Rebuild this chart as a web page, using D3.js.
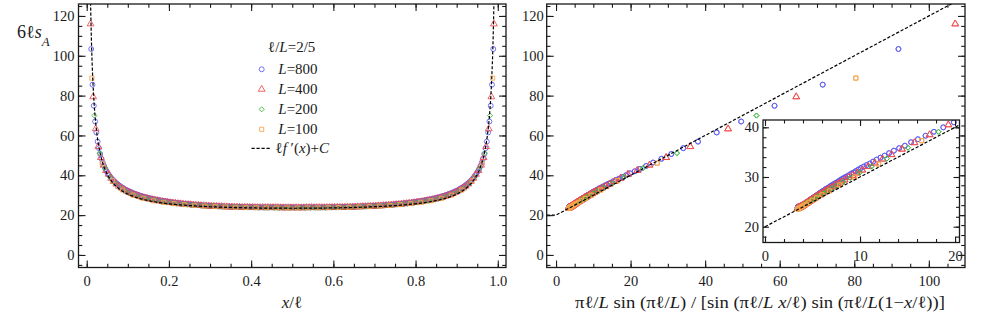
<!DOCTYPE html>
<html><head><meta charset="utf-8">
<script src="https://cdn.jsdelivr.net/npm/d3@7"></script>
<style>
body{margin:0;background:#fff;}
</style></head><body>
<svg id="chart" width="1003" height="330"></svg>
<script>
// ---------------- data ----------------
const ellOverL = 2/5;          // ℓ/L
const constC = 20;             // C in ℓ f'(x) + C
const systemSizes = [800, 400, 200, 100];
const seriesLabels = ["800", "400", "200", "100"];
const firstSite = [3.5, 1.5, 1.5, 0.5];   // first visible site x for each L (sites are half-integers)

const yL800 = [103.4,85.5,74.9,67.0,61.5,56.9,53.6,50.7,48.3,46.4,
44.7,43.2,42.0,41.0,40.0,39.1,38.3,37.6,37.0,36.3,
35.8,35.3,34.8,34.3,33.9,33.5,33.1,32.7,32.4,32.1,
31.8,31.5,31.2,30.9,30.7,30.4,30.2,30.0,29.8,29.6,
29.4,29.2,29.0,28.8,28.7,28.5,28.4,28.2,28.1,27.9,
27.8,27.7,27.6,27.4,27.3,27.2,27.1,27.0,26.9,26.8,
26.7,26.6,26.5,26.4,26.3,26.2,26.1,26.1,26.0,25.9,
25.8,25.8,25.7,25.6,25.6,25.5,25.5,25.4,25.3,25.3,
25.2,25.2,25.1,25.1,25.0,24.9,24.9,24.9,24.8,24.8,
24.8,24.7,24.7,24.6,24.6,24.6,24.6,24.5,24.5,24.4,
24.4,24.4,24.4,24.4,24.3,24.3,24.3,24.3,24.3,24.2,
24.2,24.2,24.2,24.2,24.2,24.1,24.1,24.1,24.1,24.1,
24.1,24.1,24.0,24.0,24.0,24.0,24.0,24.0,24.0,24.0,
23.9,23.9,23.9,23.9,23.9,23.9,23.9,23.9,23.9,23.9,
23.9,23.9,23.9,23.9,23.9,23.9,23.9,23.9,23.9,23.9,
23.9,23.9,23.9,23.9,23.9,23.9,23.9,
23.9,23.9,23.9,23.9,23.9,23.9,23.9,23.9,23.9,23.9,
23.9,23.9,23.9,23.9,23.9,23.9,23.9,23.9,23.9,23.9,
23.9,23.9,23.9,23.9,23.9,23.9,23.9,
24.0,24.0,24.0,24.0,24.0,24.0,24.0,24.0,
24.1,24.1,24.1,24.1,24.1,24.1,24.1,
24.2,24.2,24.2,24.2,24.2,24.2,
24.3,24.3,24.3,24.3,24.3,
24.4,24.4,24.4,24.4,24.4,
24.5,24.5,24.6,24.6,24.6,24.6,24.7,24.7,24.8,24.8,24.8,
24.9,24.9,24.9,25.0,25.1,25.1,25.2,25.2,25.3,25.3,25.4,25.5,25.5,25.6,25.6,25.7,25.8,25.8,25.9,
26.0,26.1,26.1,26.2,26.3,26.4,26.5,26.6,26.7,26.8,26.9,27.0,27.1,27.2,27.3,27.4,27.6,27.7,27.8,27.9,
28.1,28.2,28.4,28.5,28.7,28.8,29.0,29.2,29.4,29.6,29.8,30.0,30.2,30.4,30.7,30.9,31.2,31.5,31.8,
32.1,32.4,32.7,33.1,33.5,33.9,34.3,34.8,35.3,35.8,36.3,37.0,37.6,38.3,39.1,40.0,41.0,42.0,43.2,
44.7,46.4,48.3,50.7,53.6,56.9,61.5,67.0,74.9,85.5,103.4];

const yL400 = [116.0,79.4,63.3,54.4,48.9,45.1,42.4,40.5,38.5,36.9,
35.6,34.5,33.6,32.8,32.1,31.4,30.8,30.3,29.9,29.4,
29.0,28.7,28.4,28.0,27.8,27.5,27.3,27.1,26.8,26.6,
26.5,26.3,26.1,26.0,25.8,25.7,25.5,25.4,25.3,25.2,
25.1,25.0,24.9,24.8,24.7,24.7,24.6,24.5,24.4,24.4,
24.3,24.3,24.2,24.2,24.1,24.1,24.0,24.0,24.0,23.9,
23.9,23.9,23.9,23.9,23.8,23.8,23.8,23.8,23.8,23.8,
23.8,23.8,23.8,23.8,23.7,23.7,23.7,23.7,23.7,
23.7,23.7,23.7,23.7,23.7,23.8,23.8,23.8,23.8,23.8,
23.8,23.8,23.8,23.8,23.8,23.9,23.9,23.9,23.9,23.9,
24.0,24.0,24.0,24.1,24.1,24.2,24.2,24.3,24.3,24.4,
24.4,24.5,24.6,24.7,24.7,24.8,24.9,25.0,25.1,25.2,
25.3,25.4,25.5,25.7,25.8,26.0,26.1,26.3,26.5,26.6,
26.8,27.1,27.3,27.5,27.8,28.0,28.4,28.7,29.0,29.4,
29.9,30.3,30.8,31.4,32.1,32.8,33.6,34.5,35.6,36.9,
38.5,40.5,42.4,45.1,48.9,54.4,63.3,79.4,116.0];

const yL200 = [70.0,51.1,43.6,39.1,35.9,33.7,32.1,30.9,29.8,29.0,
28.3,27.7,27.2,26.7,26.3,26.1,25.7,25.5,25.3,25.0,
24.9,24.7,24.6,24.5,24.3,24.2,24.1,24.0,24.0,23.9,
23.8,23.8,23.7,23.7,23.7,23.6,23.6,23.6,23.6,
23.6,23.6,23.6,23.6,23.7,23.7,23.7,23.8,23.8,23.9,
24.0,24.0,24.1,24.2,24.3,24.5,24.6,24.7,24.9,25.0,
25.3,25.5,25.7,26.1,26.3,26.7,27.2,27.7,28.3,29.0,
29.8,30.9,32.1,33.7,35.9,39.1,43.6,51.1,70.0];

const yL100 = [88.8,46.1,37.3,32.6,30.0,28.4,27.2,26.4,25.8,25.3,
24.9,24.5,24.3,24.1,23.9,23.8,23.7,23.6,23.6,23.6,
23.6,23.6,23.6,23.7,23.8,23.9,24.1,24.3,24.5,24.9,
25.3,25.8,26.4,27.2,28.4,30.0,32.6,37.3,46.1,88.8];

const leftXTicks = [0, 0.2, 0.4, 0.6, 0.8, 1.0];
const leftXTickLabels = ["0", "0.2", "0.4", "0.6", "0.8", "1.0"];
const yTicks = [0, 20, 40, 60, 80, 100, 120];
const rightXTicks = [0, 20, 40, 60, 80, 100];
const insetXTicks = [0, 10, 20];
const insetYTicks = [20, 30, 40];

// ---------------- helpers ----------------
const seriesValues = [yL800, yL400, yL200, yL100];
const colors = ["#5a5af2", "#f04a4a", "#3fb83f", "#f5a34c"];
const a = Math.PI * ellOverL;
const chord = u => a * Math.sin(a) / (Math.sin(a * u) * Math.sin(a * (1 - u)));

const series = systemSizes.map((L, i) => {
  const ell = ellOverL * L;
  return seriesValues[i].map((v, j) => {
    const u = (firstSite[i] + j) / ell;
    return {u: u, X: chord(u), y: v};
  });
});

const svg = d3.select("#chart");
const INK = "#1a1a1a";
const FONT = "'Liberation Serif', Tinos, 'Times New Roman'";

const symbolGens = [
  d3.symbol(d3.symbolCircle, 19),
  d3.symbol(d3.symbolTriangle, 20),
  d3.symbol(d3.symbolSquare, 13),
  d3.symbol(d3.symbolSquare, 17)
];
const symbolRot = [0, 0, 45, 0];

function drawMarkers(g, data, xAcc, yAcc, si) {
  g.selectAll(null).data(data).join("path")
    .attr("d", symbolGens[si]())
    .attr("transform", d => `translate(${xAcc(d)},${yAcc(d)}) rotate(${symbolRot[si]})`)
    .attr("fill", "none")
    .attr("stroke", colors[si])
    .attr("stroke-width", 0.85);
}

function styleAxis(g) {
  g.select(".domain").remove();
  g.attr("font-family", null).attr("font-size", null);
  g.selectAll(".tick line").attr("stroke", INK).attr("stroke-width", 1.1);
  g.selectAll("text").style("font-family", FONT).style("font-size", "14.5px").attr("fill", INK);
}

function frame(g, xs, ys, xMaj, xMin, yMaj, yMin, xFmt, yFmt, opts) {
  const [x0, x1] = xs.range(), [y0, y1] = ys.range();
  const maj = opts.maj, mn = opts.min;
  g.append("g").attr("transform", `translate(0,${y0})`)
    .call(d3.axisBottom(xs).tickValues(xMin).tickSizeInner(-mn).tickSizeOuter(0).tickFormat("")).call(styleAxis);
  g.append("g").attr("transform", `translate(0,${y1})`)
    .call(d3.axisTop(xs).tickValues(xMin).tickSizeInner(-mn).tickSizeOuter(0).tickFormat("")).call(styleAxis);
  g.append("g").attr("transform", `translate(${x0},0)`)
    .call(d3.axisLeft(ys).tickValues(yMin).tickSizeInner(-mn).tickSizeOuter(0).tickFormat("")).call(styleAxis);
  g.append("g").attr("transform", `translate(${x1},0)`)
    .call(d3.axisRight(ys).tickValues(yMin).tickSizeInner(-mn).tickSizeOuter(0).tickFormat("")).call(styleAxis);
  g.append("g").attr("transform", `translate(0,${y0})`)
    .call(d3.axisBottom(xs).tickValues(xMaj).tickSizeInner(-maj).tickSizeOuter(0).tickPadding(opts.xPad).tickFormat(xFmt)).call(styleAxis);
  g.append("g").attr("transform", `translate(0,${y1})`)
    .call(d3.axisTop(xs).tickValues(xMaj).tickSizeInner(-maj).tickSizeOuter(0).tickFormat("")).call(styleAxis);
  g.append("g").attr("transform", `translate(${x0},0)`)
    .call(d3.axisLeft(ys).tickValues(yMaj).tickSizeInner(-maj).tickSizeOuter(0).tickPadding(opts.yPad).tickFormat(yFmt)).call(styleAxis);
  g.append("g").attr("transform", `translate(${x1},0)`)
    .call(d3.axisRight(ys).tickValues(yMaj).tickSizeInner(-maj).tickSizeOuter(0).tickFormat("")).call(styleAxis);
  g.append("rect").attr("x", x0).attr("y", y1).attr("width", x1 - x0).attr("height", y0 - y1)
    .attr("fill", "none").attr("stroke", INK).attr("stroke-width", 1.3);
}

function clip(id, xs, ys) {
  const [x0, x1] = xs.range(), [y0, y1] = ys.range();
  svg.append("clipPath").attr("id", id).append("rect")
    .attr("x", x0).attr("y", y1).attr("width", x1 - x0).attr("height", y0 - y1);
  return `url(#${id})`;
}

function richText(parent, x, y, parts, size, anchor) {
  const t = parent.append("text").attr("x", x).attr("y", y)
    .style("font-family", FONT).style("font-size", size + "px").attr("fill", INK)
    .attr("text-anchor", anchor || "start");
  parts.forEach(p => {
    const s = t.append("tspan").text(p[0]);
    if (p[1]) s.style("font-style", "italic");
    if (p[2]) s.attr("baseline-shift", p[2]).style("font-size", (size * 0.72) + "px");
  });
  return t;
}

// ---------------- scales ----------------
const yScale = d3.scaleLinear().domain([-6.3, 126]).range([267.5, 4]);
const xLeft = d3.scaleLinear().domain([-0.02, 1.02]).range([78.5, 506]);
const xRight = d3.scaleLinear().domain([-2.5, 109.7]).range([546.7, 965]);
const xIn = d3.scaleLinear().domain([-0.21, 20.47]).range([763, 959.5]);
const yIn = d3.scaleLinear().domain([16.82, 41.47]).range([242.5, 120]);

const dashed = "3.2,1.8";

// ---------------- left panel ----------------
const gl = svg.append("g");
const plotL = gl.append("g").attr("clip-path", clip("clipL", xLeft, yScale));
series.forEach((s, i) => drawMarkers(plotL, s, d => xLeft(d.u), d => yScale(d.y), i));
const theoryU = d3.range(0.0025, 0.99751, 0.0005);
plotL.append("path")
  .attr("d", d3.line().x(u => xLeft(u)).y(u => yScale(constC + chord(u)))(theoryU))
  .attr("fill", "none").attr("stroke", "#000").attr("stroke-width", 1.2).attr("stroke-dasharray", dashed);
frame(gl, xLeft, yScale, leftXTicks, d3.range(0, 1.0001, 0.05), yTicks, d3.range(-5, 126, 5),
  (d, i) => leftXTickLabels[i], d3.format("d"), {maj: 7, min: 3.8, xPad: 8, yPad: 4});

richText(svg, 17, 38, [["6ℓ"], ["s", true], ["A", true, "sub"]], 18);
richText(svg, 292, 308, [["x", true], ["/ℓ"]], 17, "middle");

// legend
const lg = svg.append("g");
richText(lg, 268, 51.5, [["ℓ/"], ["L", true], ["=2/5"]], 15);
const legY = [69.3, 89.3, 109.3, 129.3];
systemSizes.forEach((L, i) => {
  lg.append("path").attr("d", symbolGens[i]())
    .attr("transform", `translate(261.7,${legY[i]}) rotate(${symbolRot[i]})`)
    .attr("fill", "none").attr("stroke", colors[i]).attr("stroke-width", 0.85);
  richText(lg, 278.3, legY[i] + 5, [["L", true], ["=" + seriesLabels[i]]], 15);
});
lg.append("line").attr("x1", 251.5).attr("x2", 271.5).attr("y1", 148.3).attr("y2", 148.3)
  .attr("stroke", "#000").attr("stroke-width", 1.2).attr("stroke-dasharray", dashed);
richText(lg, 275.5, 153.3, [["ℓ"], ["f", true], [" ′("], ["x", true], [")+"], ["C", true]], 15);

// ---------------- right panel ----------------
const gr = svg.append("g");
const plotR = gr.append("g").attr("clip-path", clip("clipR", xRight, yScale));
series.forEach((s, i) => drawMarkers(plotR, s, d => xRight(d.X), d => yScale(d.y), i));
const lineXR = [xRight.domain()[0], 0, xRight.domain()[1]];
plotR.append("path")
  .attr("d", d3.line().x(X => xRight(X)).y(X => yScale(constC + Math.max(0, X)))(lineXR))
  .attr("fill", "none").attr("stroke", "#000").attr("stroke-width", 1.2).attr("stroke-dasharray", dashed);
frame(gr, xRight, yScale, rightXTicks, d3.range(0, 106, 5), yTicks, d3.range(-5, 126, 5),
  d3.format("d"), d3.format("d"), {maj: 7, min: 3.8, xPad: 8, yPad: 3});

richText(svg, 760, 308, [
  ["πℓ/"], ["L", true], [" sin (πℓ/"], ["L", true], [") / [sin (πℓ/"], ["L", true], [" "], ["x", true],
  ["/ℓ) sin (πℓ/"], ["L", true], ["(1−"], ["x", true], ["/ℓ))]"]
], 17, "middle").attr("textLength", 370).attr("lengthAdjust", "spacingAndGlyphs");

// ---------------- inset ----------------
const gi = svg.append("g");
gi.append("rect").attr("x", 763).attr("y", 120).attr("width", 196.5).attr("height", 122.5).attr("fill", "#fff");
const plotI = gi.append("g").attr("clip-path", clip("clipI", xIn, yIn));
series.forEach((s, i) => drawMarkers(plotI, s.filter(d => d.X < 21 && d.y < 43), d => xIn(d.X), d => yIn(d.y), i));
const lineXI = [0, xIn.domain()[1]];
plotI.append("path")
  .attr("d", d3.line().x(X => xIn(X)).y(X => yIn(constC + X))(lineXI))
  .attr("fill", "none").attr("stroke", "#000").attr("stroke-width", 1.2).attr("stroke-dasharray", dashed);
frame(gi, xIn, yIn, insetXTicks, d3.range(0, 20.1, 2), insetYTicks, d3.range(18, 41, 2),
  d3.format("d"), d3.format("d"), {maj: 6, min: 3.5, xPad: 8, yPad: 4});
</script>
</body></html>
